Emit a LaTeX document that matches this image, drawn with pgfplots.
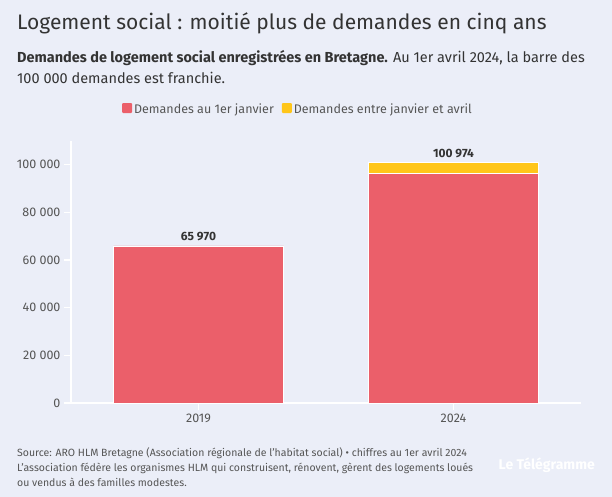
\documentclass[border=0pt]{standalone}
\usepackage{pgfplots}
\pgfplotsset{compat=1.18}
\usepackage{fontspec}
\setmainfont{Fira Sans}
\definecolor{bg}{HTML}{EBEEF8}
\definecolor{rouge}{HTML}{EB5F6A}
\definecolor{jaune}{HTML}{FFC61A}
\definecolor{txt}{HTML}{333333}
\definecolor{ticktxt}{HTML}{555555}
\begin{document}
\begin{tikzpicture}[x=1pt,y=1pt]
\fill[bg] (0,0) rectangle (612,497);
\node[anchor=base west, inner sep=0, text=txt, font=\fontsize{21}{25}\selectfont] at (17,467) {Logement social : moitié plus de demandes en cinq ans};
\node[anchor=base west, inner sep=0, text=txt, font=\fontsize{14.5}{17}\selectfont] at (17,434) {\textbf{Demandes de logement social enregistrées en Bretagne.} Au 1er avril 2024, la barre des};
\node[anchor=base west, inner sep=0, text=txt, font=\fontsize{14.5}{17}\selectfont] at (17,413) {100 000 demandes est franchie.};
\node[anchor=base west, inner sep=0, text=ticktxt, font=\fontsize{10.5}{13}\selectfont] at (17,40) {Source: ARO HLM Bretagne (Association régionale de l'habitat social) • chiffres au 1er avril 2024};
\node[anchor=base west, inner sep=0, text=ticktxt, font=\fontsize{10.5}{13}\selectfont] at (17,25) {L’association fédère les organismes HLM qui construisent, rénovent, gèrent des logements loués};
\node[anchor=base west, inner sep=0, text=ticktxt, font=\fontsize{10.5}{13}\selectfont] at (17,10) {ou vendus à des familles modestes.};
\node[anchor=base east, inner sep=0, text=white, font=\bfseries\fontsize{14}{16}\selectfont] at (595,27) {Le Télégramme};
\begin{axis}[
  at={(71pt,94pt)}, anchor=south west,
  scale only axis, width=510pt, height=262pt,
  xmin=-0.5, xmax=1.5, ymin=0, ymax=110000,
  ybar stacked, bar width=170pt,
  axis x line*=bottom, axis y line*=left,
  axis line style={white, line width=1.5pt},
  xtick={0,1}, xticklabels={2019,2024},
  ytick={0,20000,40000,60000,80000,100000},
  yticklabels={0,20 000,40 000,60 000,80 000,100 000},
  scaled y ticks=false,
  tick style={white, line width=1.2pt},
  major tick length=7pt, tick align=outside,
  tick label style={font=\fontsize{12.5}{15}\selectfont, text=ticktxt},
  legend columns=2,
  legend style={draw=none, fill=none, at={(0.445,1.122)}, anchor=center,
    font=\fontsize{12.5}{15}\selectfont, text=ticktxt,
    /tikz/every even column/.append style={column sep=6pt}},
  legend image code/.code={\path[#1, draw=none, rounded corners=1pt] (0pt,-4pt) rectangle (10pt,6pt);},
]
\addplot[fill=rouge, draw=white, line width=0.4pt] coordinates {(0,65970) (1,96400)};
\addplot[fill=jaune, draw=white, line width=0.4pt] coordinates {(0,0) (1,4574)};
\legend{Demandes au 1er janvier, Demandes entre janvier et avril}
\node[anchor=base, yshift=5pt, text=txt, font=\bfseries\fontsize{12}{14}\selectfont] at (axis cs:0,65970) {65 970};
\node[anchor=base, yshift=5pt, text=txt, font=\bfseries\fontsize{12}{14}\selectfont] at (axis cs:1,100974) {100 974};
\end{axis}
\end{tikzpicture}
\end{document}
